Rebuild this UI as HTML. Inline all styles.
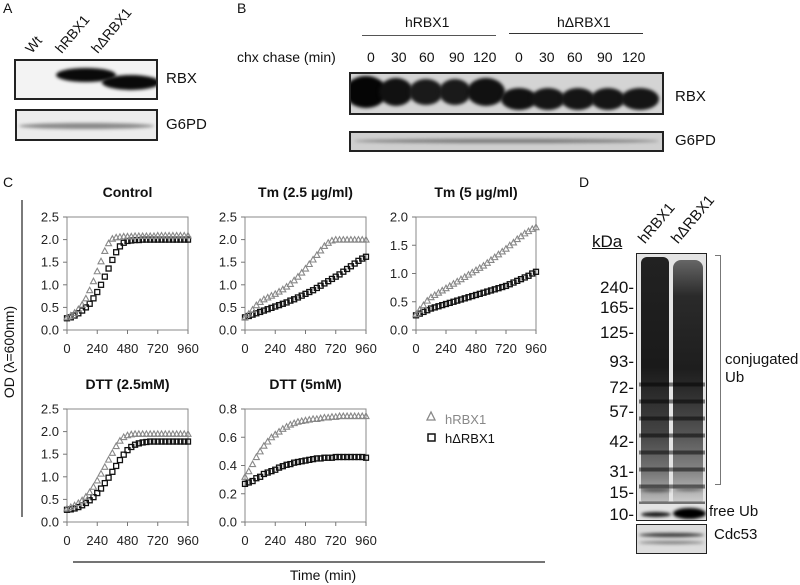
<!DOCTYPE html>
<html><head><meta charset="utf-8">
<style>
body{margin:0;background:#fff;}
#root{position:relative;width:800px;height:585px;overflow:hidden;font-family:"Liberation Sans",Arial,sans-serif;color:#111;}
.t{position:absolute;white-space:nowrap;}
.box{position:absolute;border:2px solid #222;box-sizing:border-box;overflow:hidden;}
.rot{position:absolute;transform-origin:left bottom;transform:rotate(-50deg);font-size:14px;white-space:nowrap;}
.band{position:absolute;border-radius:50%;filter:blur(1.5px);}
.mw{position:absolute;width:50px;text-align:right;font-size:17px;white-space:nowrap;}
</style></head><body>
<div id="root">
<!-- Panel A -->
<div class="t" style="left:3px;top:0;font-size:14px">A</div>
<div class="rot" style="left:34px;top:40px">Wt</div>
<div class="rot" style="left:64px;top:40px">hRBX1</div>
<div class="rot" style="left:100px;top:40px">hΔRBX1</div>
<div class="box" style="left:14px;top:59px;width:144px;height:41px;background:#f3f3f3">
 <div class="band" style="left:40px;top:7px;width:60px;height:14px;background:#0a0a0a"></div>
 <div class="band" style="left:86px;top:14px;width:58px;height:15px;background:#0a0a0a"></div>
</div>
<div class="t" style="left:166px;top:70px;font-size:15px">RBX</div>
<div class="box" style="left:15px;top:109px;width:143px;height:32px;background:#ececec">
 <div class="band" style="left:2px;top:12px;width:135px;height:6px;background:#888"></div>
</div>
<div class="t" style="left:166px;top:116px;font-size:15px">G6PD</div>
<!-- Panel B -->
<div class="t" style="left:237px;top:0;font-size:14px">B</div>
<div class="t" style="left:405px;top:14px;font-size:14px">hRBX1</div>
<div style="position:absolute;left:362px;top:35px;width:134px;height:1px;background:#555"></div>
<div class="t" style="left:557px;top:14px;font-size:14px">hΔRBX1</div>
<div style="position:absolute;left:509px;top:33px;width:134px;height:1px;background:#333"></div>
<div class="t" style="left:237px;top:49px;font-size:14px">chx chase (min)</div>
<div class="t" style="left:367px;top:49px;font-size:14px"><span style="position:absolute;left:0">0</span><span style="position:absolute;left:24px">30</span><span style="position:absolute;left:52px">60</span><span style="position:absolute;left:82px">90</span><span style="position:absolute;left:106px">120</span><span style="position:absolute;left:148px">0</span><span style="position:absolute;left:172px">30</span><span style="position:absolute;left:200px">60</span><span style="position:absolute;left:230px">90</span><span style="position:absolute;left:255px">120</span></div>
<div class="box" style="left:349px;top:72px;width:315px;height:43px;background:#d4d4d4">
 <div class="band" style="left:-6px;top:2px;width:42px;height:32px;background:#050505"></div>
 <div class="band" style="left:28px;top:4px;width:34px;height:28px;background:#111"></div>
 <div class="band" style="left:58px;top:5px;width:34px;height:26px;background:#1a1a1a"></div>
 <div class="band" style="left:88px;top:5px;width:32px;height:26px;background:#1a1a1a"></div>
 <div class="band" style="left:116px;top:4px;width:38px;height:28px;background:#111"></div>
 <div class="band" style="left:150px;top:14px;width:36px;height:22px;background:#111"></div>
 <div class="band" style="left:180px;top:14px;width:34px;height:22px;background:#151515"></div>
 <div class="band" style="left:210px;top:14px;width:34px;height:22px;background:#151515"></div>
 <div class="band" style="left:240px;top:14px;width:34px;height:22px;background:#151515"></div>
 <div class="band" style="left:270px;top:14px;width:38px;height:22px;background:#151515"></div>
</div>
<div class="t" style="left:675px;top:88px;font-size:15px">RBX</div>
<div class="box" style="left:349px;top:131px;width:315px;height:21px;background:#cfcfcf">
 <div class="band" style="left:3px;top:6px;width:305px;height:4px;background:#777"></div>
</div>
<div class="t" style="left:675px;top:132px;font-size:15px">G6PD</div>
<!-- Panel C chart -->
<div class="t" style="left:3px;top:174px;font-size:14px">C</div>
<svg id="chart" width="800" height="585" style="position:absolute;left:0;top:0"></svg>
<!-- Panel D -->
<div class="t" style="left:579px;top:174px;font-size:14px">D</div>
<div class="t" style="left:592px;top:232px;font-size:17px;text-decoration:underline">kDa</div>
<div class="rot" style="left:648px;top:230px;font-size:15px">hRBX1</div>
<div class="rot" style="left:681px;top:230px;font-size:15px">hΔRBX1</div>
<div class="box" style="left:636px;top:253px;width:71px;height:268px;border-width:1px;background:#e4e4e4">
 <div style="position:absolute;left:4px;top:3px;width:28px;height:245px;background:linear-gradient(#222,#1a1a1a 45%,#2a2a2a 55%,#444 72%,#777 88%,#bbb);border-radius:6px 6px 2px 2px"></div>
 <div style="position:absolute;left:36px;top:6px;width:30px;height:242px;background:linear-gradient(#666,#2a2a2a 15%,#1e1e1e 45%,#2e2e2e 55%,#555 72%,#888 88%,#ccc);border-radius:8px 8px 2px 2px"></div>
 <div style="position:absolute;left:2px;top:120px;width:66px;height:130px;background:repeating-linear-gradient(transparent 0,transparent 8px,rgba(0,0,0,.5) 9px,rgba(0,0,0,.5) 12px,transparent 13px,transparent 17px)"></div>
 <div class="band" style="left:4px;top:234px;width:30px;height:4px;background:#555"></div>
 <div class="band" style="left:38px;top:234px;width:28px;height:3px;background:#666"></div>
 <div class="band" style="left:4px;top:258px;width:30px;height:5px;background:#111"></div>
 <div class="band" style="left:36px;top:254px;width:33px;height:11px;background:#000"></div>
</div>
<div class="mw" style="left:584px;top:278px">240-</div>
<div class="mw" style="left:584px;top:298px">165-</div>
<div class="mw" style="left:584px;top:323px">125-</div>
<div class="mw" style="left:584px;top:352px">93-</div>
<div class="mw" style="left:584px;top:378px">72-</div>
<div class="mw" style="left:584px;top:402px">57-</div>
<div class="mw" style="left:584px;top:432px">42-</div>
<div class="mw" style="left:584px;top:462px">31-</div>
<div class="mw" style="left:584px;top:483px">15-</div>
<div class="mw" style="left:584px;top:505px">10-</div>
<div style="position:absolute;left:715px;top:255px;width:5px;height:228px;border:1px solid #777;border-left:none"></div>
<div class="t" style="left:725px;top:351px;font-size:15px;line-height:18px">conjugated<br>Ub</div>
<div class="t" style="left:709px;top:503px;font-size:15px">free Ub</div>
<div class="box" style="left:636px;top:524px;width:71px;height:30px;border-width:1px;background:#ddd">
 <div class="band" style="left:2px;top:8px;width:65px;height:4px;background:#333"></div>
 <div class="band" style="left:2px;top:16px;width:65px;height:3px;background:#777"></div>
</div>
<div class="t" style="left:714px;top:526px;font-size:15px">Cdc53</div>
</div>
<script>
// time points (min), every 30 min
const times = [0,30,60,90,120,150,180,210,240,270,300,330,360,390,420,450,480,510,540,570,600,630,660,690,720,750,780,810,840,870,900,930,960];
const xTicks = [0,240,480,720,960];
const ticks25 = [0,0.5,1,1.5,2,2.5];
const ticks20 = [0,0.5,1,1.5,2];
const ticks08 = [0,0.2,0.4,0.6,0.8];
const ctrlH = [0.28,0.32,0.38,0.46,0.56,0.70,0.88,1.08,1.30,1.52,1.75,1.92,2.02,2.05,2.06,2.07,2.07,2.07,2.08,2.08,2.08,2.08,2.08,2.08,2.09,2.09,2.09,2.09,2.09,2.09,2.09,2.09,2.09];
const ctrlD = [0.26,0.28,0.32,0.37,0.43,0.50,0.58,0.70,0.84,1.00,1.18,1.36,1.55,1.72,1.85,1.93,1.97,1.98,1.99,1.99,2.00,2.00,2.00,2.00,2.00,2.00,2.00,2.00,2.00,2.00,2.00,2.00,2.00];
const tm25H = [0.28,0.36,0.45,0.55,0.62,0.68,0.72,0.76,0.80,0.85,0.90,0.96,1.02,1.10,1.18,1.27,1.36,1.46,1.56,1.66,1.76,1.86,1.93,1.98,2.00,2.00,2.00,2.00,2.00,2.00,2.00,2.00,2.00];
const tm25D = [0.28,0.31,0.34,0.37,0.40,0.43,0.46,0.49,0.52,0.55,0.58,0.61,0.65,0.68,0.72,0.76,0.80,0.84,0.88,0.93,0.98,1.03,1.08,1.13,1.18,1.23,1.29,1.35,1.41,1.47,1.53,1.58,1.62];
const tm5H = [0.28,0.36,0.44,0.52,0.58,0.62,0.66,0.70,0.74,0.78,0.82,0.86,0.90,0.94,0.98,1.02,1.06,1.10,1.14,1.19,1.24,1.29,1.34,1.39,1.44,1.50,1.55,1.61,1.66,1.71,1.75,1.79,1.82];
const tm5D = [0.26,0.29,0.32,0.35,0.38,0.40,0.42,0.44,0.46,0.48,0.50,0.52,0.54,0.56,0.58,0.60,0.62,0.64,0.66,0.68,0.70,0.72,0.74,0.76,0.78,0.81,0.84,0.87,0.90,0.93,0.96,1.00,1.03];
const dtt25H = [0.30,0.33,0.37,0.42,0.48,0.56,0.66,0.78,0.92,1.07,1.22,1.38,1.53,1.68,1.80,1.88,1.92,1.94,1.95,1.95,1.95,1.95,1.95,1.95,1.95,1.95,1.95,1.95,1.95,1.95,1.95,1.95,1.95];
const dtt25D = [0.27,0.28,0.30,0.33,0.37,0.42,0.48,0.55,0.64,0.74,0.86,0.98,1.11,1.24,1.37,1.49,1.59,1.66,1.71,1.74,1.76,1.77,1.78,1.78,1.78,1.78,1.78,1.78,1.78,1.78,1.78,1.78,1.78];
const dtt5H = [0.32,0.36,0.41,0.46,0.50,0.54,0.57,0.60,0.62,0.64,0.66,0.675,0.69,0.70,0.71,0.715,0.72,0.725,0.73,0.73,0.735,0.74,0.74,0.745,0.745,0.75,0.75,0.75,0.75,0.75,0.75,0.75,0.75];
const dtt5D = [0.27,0.28,0.29,0.31,0.32,0.34,0.35,0.36,0.37,0.385,0.395,0.405,0.41,0.42,0.425,0.43,0.435,0.44,0.445,0.45,0.45,0.455,0.455,0.455,0.46,0.46,0.46,0.46,0.46,0.46,0.46,0.46,0.455];

const NS="http://www.w3.org/2000/svg";
const svg=document.getElementById('chart');
function mk(tag,attrs,parent){const e=document.createElementNS(NS,tag);for(const k in attrs)e.setAttribute(k,attrs[k]);(parent||svg).appendChild(e);return e;}
function panel(name,title,x0,x1,yTop,yBot,yTicks,sH,sD){
  const g=mk('g',{});
  
  
  const ymax=yTicks[yTicks.length-1];
  const sx=t=>x0+(t/960)*(x1-x0);
  const sy=v=>yBot-(v/ymax)*(yBot-yTop);
  const tt=mk('text',{x:(x0+x1)/2,y:yTop-20,'text-anchor':'middle','font-size':14,'font-weight':'bold','font-family':'Liberation Sans, Arial, sans-serif',fill:'#111'},g);
  tt.textContent=title;
  
  
  mk('rect',{x:x0,y:yTop,width:x1-x0,height:yBot-yTop,fill:'none',stroke:'#888','stroke-width':1},g);
  yTicks.forEach(v=>{
    mk('line',{x1:x0-4,y1:sy(v),x2:x0,y2:sy(v),stroke:'#777'},g);
    const l=mk('text',{x:x0-8,y:sy(v)+4.5,'text-anchor':'end','font-size':13,'font-family':'Liberation Sans, Arial, sans-serif',fill:'#222'},g);
    l.textContent=v.toFixed(1);
    
    
  });
  xTicks.forEach(t=>{
    mk('line',{x1:sx(t),y1:yBot,x2:sx(t),y2:yBot+4,stroke:'#777'},g);
    const l=mk('text',{x:sx(t),y:yBot+23,'text-anchor':'middle','font-size':13,'font-family':'Liberation Sans, Arial, sans-serif',fill:'#222'},g);
    l.textContent=t;
    
    
  });
  sD.forEach((v,i)=>{
    const r=mk('rect',{x:sx(times[i])-2.5,y:sy(v)-2.5,width:5,height:5,fill:'none',stroke:'#111','stroke-width':1.3},g);
    
    
  });
  sH.forEach((v,i)=>{
    const cx=sx(times[i]),cy=sy(v);
    const p=mk('polygon',{points:`${cx},${cy-3} ${cx-3},${cy+2.5} ${cx+3},${cy+2.5}`,fill:'none',stroke:'#888','stroke-width':1.1},g);
    
    
  });
}
panel('chart-control','Control',67,188,217,330,ticks25,ctrlH,ctrlD);
panel('chart-tm-2-5','Tm (2.5 μg/ml)',245,366,217,330,ticks25,tm25H,tm25D);
panel('chart-tm-5','Tm (5 μg/ml)',416,536,217,330,ticks20,tm5H,tm5D);
panel('chart-dtt-2-5','DTT (2.5mM)',67,188,409,522,ticks25,dtt25H,dtt25D);
panel('chart-dtt-5','DTT (5mM)',245,366,409,522,ticks08,dtt5H,dtt5D);
mk('line',{x1:22,y1:200,x2:22,y2:517,stroke:'#222','stroke-width':1.2});
const yt=mk('text',{x:0,y:0,transform:'translate(14,352) rotate(-90)','text-anchor':'middle','font-size':14,'font-family':'Liberation Sans, Arial, sans-serif',fill:'#111'});
yt.textContent='OD (λ=600nm)';


mk('line',{x1:73,y1:562,x2:545,y2:562,stroke:'#222','stroke-width':1.2});
const xt=mk('text',{x:323,y:580,'text-anchor':'middle','font-size':14,'font-family':'Liberation Sans, Arial, sans-serif',fill:'#111'});
xt.textContent='Time (min)';


const lg=mk('g',{});


mk('polygon',{points:'431,412 427,420 435,420',fill:'none',stroke:'#888','stroke-width':1.3},lg);
const l1=mk('text',{x:445,y:424,'font-size':13,'font-family':'Liberation Sans, Arial, sans-serif',fill:'#888'},lg);
l1.textContent='hRBX1';


mk('rect',{x:428,y:434,width:7,height:7,fill:'none',stroke:'#111','stroke-width':1.5},lg);
const l2=mk('text',{x:445,y:443,'font-size':13,'font-family':'Liberation Sans, Arial, sans-serif',fill:'#111'},lg);
l2.textContent='hΔRBX1';


</script>
</body></html>
